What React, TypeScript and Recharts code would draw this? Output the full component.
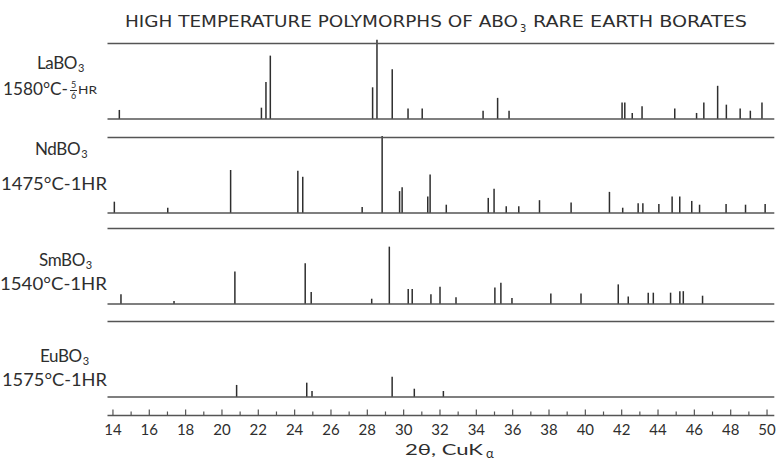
import React from "react";
import { Bar, ComposedChart, ReferenceLine, XAxis, YAxis } from "recharts";

// peak positions (2θ) and relative heights
const laTheta = [14.33, 22.15, 22.4, 22.64, 28.27, 28.51, 29.35, 30.22, 31.0, 34.35, 35.15, 35.78, 42.0, 42.15, 42.56, 43.1, 44.9, 46.1, 46.5, 47.26, 47.74, 48.5, 49.06, 49.7];
const laIntensity = [12, 15, 49, 84, 42, 105, 66, 14, 14, 11, 28, 11, 22, 22, 8, 17, 14, 8, 22, 44, 19, 14, 11, 22];

const ndTheta = [14.1, 17.04, 20.5, 24.2, 24.47, 27.74, 28.84, 29.8, 29.94, 31.35, 31.48, 32.37, 34.68, 35.0, 35.67, 36.36, 37.5, 39.24, 41.35, 42.08, 42.93, 43.19, 44.07, 44.8, 45.22, 45.88, 46.31, 47.77, 48.84, 49.92];
const ndIntensity = [15, 7, 57, 56, 48, 8, 102, 29, 34, 22, 51, 11, 20, 32, 9, 9, 17, 14, 28, 7, 13, 13, 12, 22, 22, 16, 11, 12, 11, 12];

const smTheta = [14.44, 17.36, 20.71, 24.58, 24.91, 28.24, 29.21, 30.25, 30.47, 31.5, 32.0, 32.88, 35.02, 35.35, 35.96, 38.1, 39.76, 41.81, 42.36, 43.46, 43.74, 44.69, 45.2, 45.39, 46.45];
const smIntensity = [13, 4, 43, 54, 16, 7, 76, 20, 20, 13, 23, 9, 22, 28, 8, 14, 14, 26, 10, 15, 15, 15, 17, 17, 11];

const euTheta = [20.8, 24.66, 24.95, 29.36, 30.58, 32.18];
const euIntensity = [16, 19, 8, 27, 11, 8];

const axisTicks = [14, 15, 16, 17, 18, 19, 20, 21, 22, 23, 24, 25, 26, 27, 28, 29, 30, 31, 32, 33, 34, 35, 36, 37, 38, 39, 40, 41, 42, 43, 44, 45, 46, 47, 48, 49, 50];
const tickLabels = [14, 16, 18, 20, 22, 24, 26, 28, 30, 32, 34, 36, 38, 40, 42, 44, 46, 48, 50];

const INK = "#2e2e2e";
const LINE = "#555";
const LABEL_FONT = "Lato, 'DejaVu Sans', sans-serif";
const W = 779;
const MARGIN = { left: 107.5, right: 4.7 };
const X_DOMAIN: [number, number] = [13.7, 50.4];

function AxisTick({ x, y, payload }: any) {
  const v = payload.value;
  const labelled = tickLabels.includes(v);
  return (
    <g>
      <line x1={x} x2={x} y1={y} y2={y - (labelled ? 6 : 4)} stroke={LINE} strokeWidth={1.2} />
      {labelled && (
        <text x={x} y={y + 19} textAnchor="middle" fontSize={15} fontFamily={LABEL_FONT} fill={INK}>
          {v}
        </text>
      )}
    </g>
  );
}

function Panel({ theta, intensity, top, withAxis }: { theta: number[]; intensity: number[]; top: number; withAxis?: boolean }) {
  const data = theta.map((t, i) => ({ t, i: intensity[i] }));
  const height = withAxis ? 148.5 : 85;
  return (
    <div style={{ position: "absolute", left: 0, top }}>
      <ComposedChart width={W} height={height} data={data} margin={{ top: 0, bottom: withAxis ? 0 : 2, ...MARGIN }}>
        <XAxis
          dataKey="t"
          type="number"
          domain={X_DOMAIN}
          hide={!withAxis}
          ticks={axisTicks}
          interval={0}
          tick={<AxisTick />}
          tickLine={false}
          tickSize={0}
          tickMargin={0}
          height={47}
          axisLine={{ stroke: LINE, strokeWidth: 1.4 }}
        />
        <YAxis hide type="number" domain={withAxis ? [-24.5, 110] : [0, 110]} />
        <ReferenceLine y={100} stroke={LINE} strokeWidth={1.4} />
        <ReferenceLine y={0} stroke={LINE} strokeWidth={1.4} />
        <Bar dataKey="i" fill={INK} barSize={1.5} isAnimationActive={false} />
      </ComposedChart>
    </div>
  );
}

function SampleLabel({ name, x, y }: { name: string; x: number; y: number }) {
  return (
    <text x={x} y={y} fontSize={17} letterSpacing={-0.4}>
      {name}
      <tspan dx={1} dy={3} fontSize={11}>3</tspan>
    </text>
  );
}

export default function App() {
  return (
    <div style={{ position: "relative", width: W, height: 462, background: "#fff", overflow: "hidden" }}>
      <style>{`body{margin:0}`}</style>
      <Panel theta={laTheta} intensity={laIntensity} top={35.5} />
      <Panel theta={ndTheta} intensity={ndIntensity} top={129.5} />
      <Panel theta={smTheta} intensity={smIntensity} top={221} />
      <Panel theta={euTheta} intensity={euIntensity} top={313.5} withAxis />
      <svg width={W} height={462} style={{ position: "absolute", left: 0, top: 0, pointerEvents: "none" }}>
        <g fontFamily="'DejaVu Sans Condensed', 'DejaVu Sans', sans-serif" fill={INK} fontSize={15}>
          <text x={125} y={27} textLength={393} lengthAdjust="spacingAndGlyphs">
            HIGH TEMPERATURE POLYMORPHS OF ABO
          </text>
          <text x={520} y={32} fontSize={11}>3</text>
          <text x={533} y={27} textLength={214} lengthAdjust="spacingAndGlyphs">
            RARE EARTH BORATES
          </text>
        </g>
        <g fontFamily={LABEL_FONT} fill={INK}>
          <SampleLabel name="LaBO" x={37} y={69} />
          <text x={3} y={95} fontSize={17} textLength={65} lengthAdjust="spacingAndGlyphs">1580°C-</text>
          <text fontSize={9} textAnchor="middle">
            <tspan x={73.5} y={88}>5</tspan>
            <tspan x={73.5} y={99}>6</tspan>
          </text>
          <line x1={70} x2={77} y1={90.5} y2={90.5} stroke={INK} strokeWidth={1} />
          <text x={78} y={94} fontSize={12} textLength={19} lengthAdjust="spacingAndGlyphs">HR</text>

          <SampleLabel name="NdBO" x={35} y={155} />
          <text x={1} y={190} fontSize={17} textLength={106} lengthAdjust="spacingAndGlyphs">1475°C-1HR</text>

          <SampleLabel name="SmBO" x={39} y={266} />
          <text x={0} y={290} fontSize={17} textLength={107} lengthAdjust="spacingAndGlyphs">1540°C-1HR</text>

          <SampleLabel name="EuBO" x={40} y={362} />
          <text x={2} y={386} fontSize={17} textLength={105} lengthAdjust="spacingAndGlyphs">1575°C-1HR</text>

          <text x={405} y={455} fontSize={15} textLength={78} lengthAdjust="spacingAndGlyphs">2θ, CuK</text>
          <text x={486} y={458} fontSize={13}>α</text>
        </g>
      </svg>
    </div>
  );
}
